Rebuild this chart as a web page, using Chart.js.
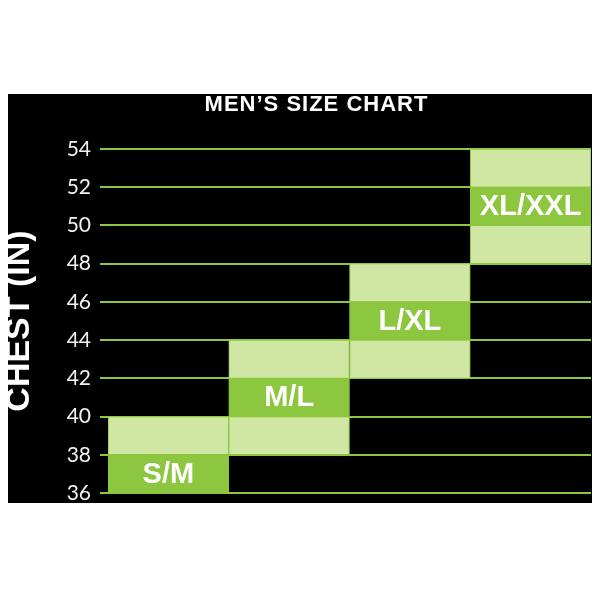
<!DOCTYPE html>
<html>
<head>
<meta charset="utf-8">
<script src="https://cdn.jsdelivr.net/npm/chart.js@4.4.0/dist/chart.umd.min.js"></script>
<style>
  body { margin: 0; background: #fff; }
  #panel { position: absolute; left: 8px; top: 94px; width: 584px; height: 409px; background: #000; }
  #wrap { position: absolute; left: 0; top: 94px; width: 600px; height: 409px; }
  h1 {
    position: absolute; left: 0; top: 93px; width: 633px; margin: 0;
    text-align: center; color: #fff;
    font: bold 22px/22px "Liberation Sans", Arial, sans-serif;
    letter-spacing: 1px;
  }
</style>
</head>
<body>
<div id="panel"></div>
<div id="wrap"><canvas id="chart" width="600" height="409"></canvas></div>
<h1>MEN’S SIZE CHART</h1>
<script>
// 사이즈별 가슴둘레 (인치)
const sizes = ['S/M', 'M/L', 'L/XL', 'XL/XXL'];
const lowerRange = [null, [38, 40], [42, 44], [48, 50]];
const bestFit = [[36, 38], [40, 42], [44, 46], [50, 52]];
const upperRange = [[38, 40], [42, 44], [46, 48], [52, 54]];
const chestMin = 36;
const chestMax = 54;
const chestStep = 2;

const lime = '#8dc63f';
const pale = '#cfe7a2';

// 진한 칸 가운데에 사이즈 이름
const sizeLabels = {
  id: 'sizeLabels',
  afterDatasetsDraw(chart) {
    const ctx = chart.ctx;
    const meta = chart.getDatasetMeta(1);
    ctx.save();
    ctx.font = 'bold 29px "Liberation Sans", Arial, sans-serif';
    ctx.fillStyle = '#fff';
    ctx.textAlign = 'center';
    ctx.textBaseline = 'middle';
    meta.data.forEach((bar, i) => {
      const { x, y, base } = bar.getProps(['x', 'y', 'base'], true);
      ctx.fillText(sizes[i], x, (y + base) / 2 + 1);
    });
    ctx.restore();
  }
};

const barStyle = {
  categoryPercentage: 1,
  barPercentage: 1,
  borderWidth: 1,
  borderColor: lime,
  borderSkipped: false
};

new Chart(document.getElementById('chart'), {
  type: 'bar',
  data: {
    labels: sizes,
    datasets: [
      { data: lowerRange, backgroundColor: pale, ...barStyle },
      { data: bestFit, backgroundColor: lime, ...barStyle },
      { data: upperRange, backgroundColor: pale, ...barStyle }
    ]
  },
  options: {
    responsive: false,
    animation: false,
    devicePixelRatio: 1,
    layout: { padding: { left: 0, top: 55, right: 9, bottom: 10 } },
    plugins: {
      legend: { display: false },
      tooltip: { enabled: false }
    },
    scales: {
      x: { stacked: true, display: false },
      y: {
        min: chestMin,
        max: chestMax,
        afterFit: (scale) => {
          scale.width = 108;
          scale.paddingTop = 0;
          scale.paddingBottom = 0;
        },
        border: { display: false },
        grid: { color: lime, lineWidth: 2, drawTicks: true, tickLength: 8 },
        ticks: {
          stepSize: chestStep,
          padding: 9,
          color: '#f2f2f2',
          font: { family: 'Lato, "Open Sans", sans-serif', size: 21 }
        },
        title: {
          display: true,
          text: 'CHEST (IN)',
          color: '#fff',
          padding: { top: 3, bottom: 0 },
          font: { family: '"Liberation Sans", Arial, sans-serif', size: 34, weight: 'bold', lineHeight: 1 }
        }
      }
    }
  },
  plugins: [sizeLabels]
});
</script>
</body>
</html>
